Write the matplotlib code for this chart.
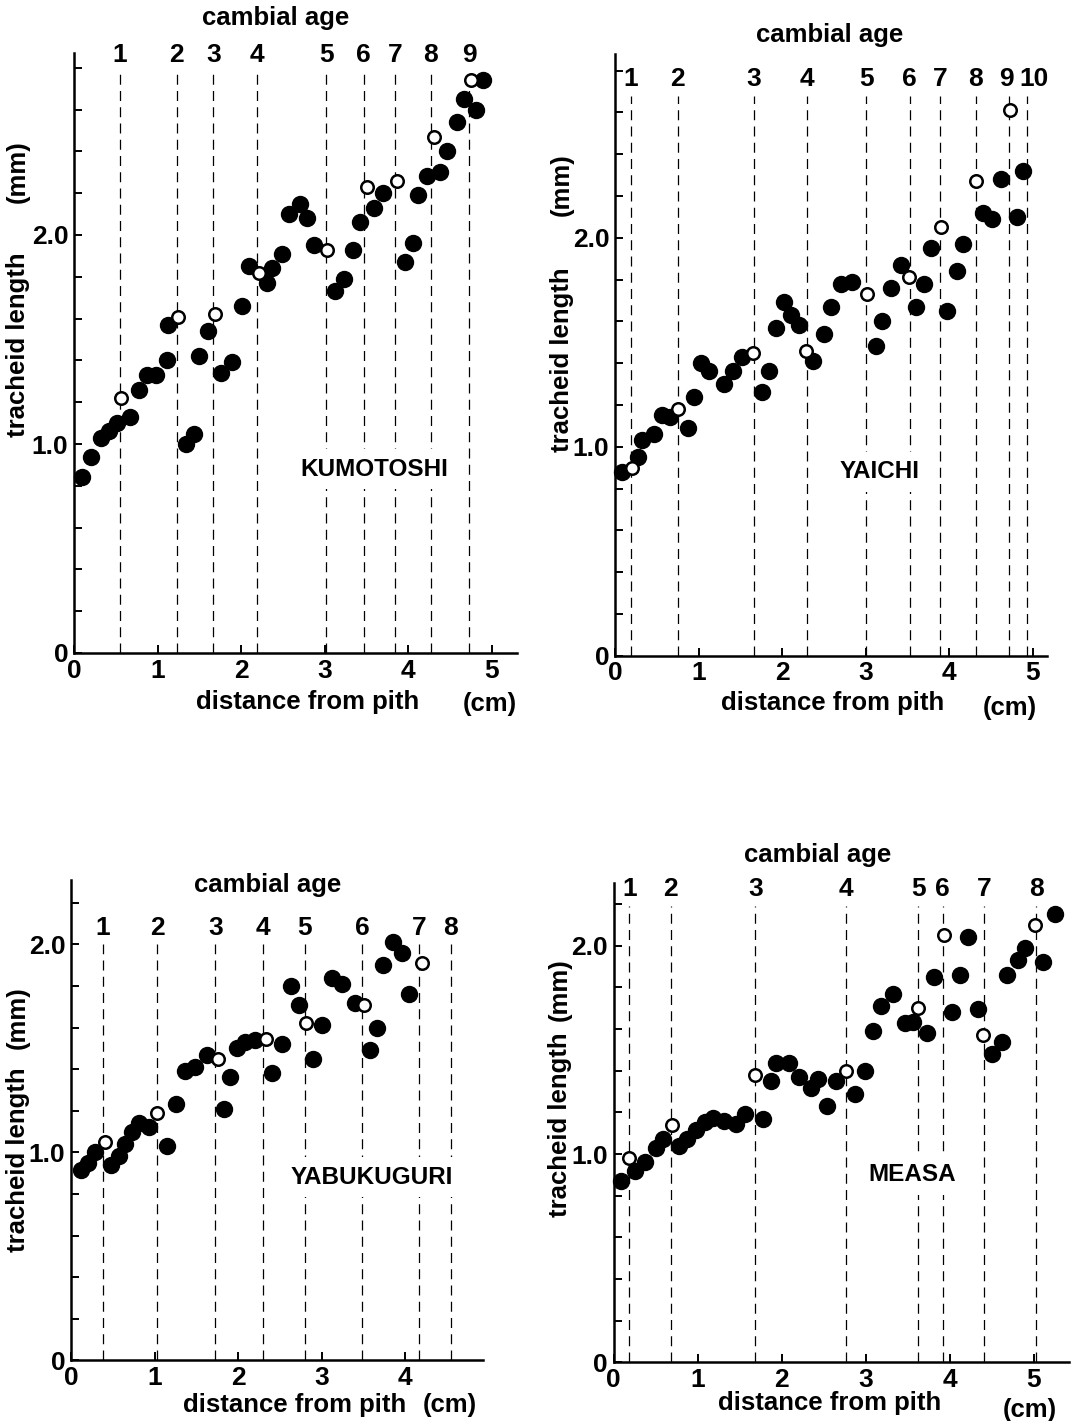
import matplotlib
matplotlib.use("Agg")
import matplotlib.pyplot as plt

plt.rcParams['font.family'] = ['Liberation Sans', 'DejaVu Sans']
plt.rcParams['font.weight'] = 'bold'

W, H = 1073, 1421

# ---- KUMOTOSHI ----
kumo_x = [0.10, 0.20, 0.32, 0.42, 0.52, 0.67, 0.78, 0.87, 0.98, 1.11, 1.12, 1.34, 1.44,
          1.50, 1.60, 1.76, 1.89, 2.01, 2.09, 2.31, 2.37, 2.49, 2.58, 2.71, 2.79, 2.87,
          3.12, 3.23, 3.34, 3.42, 3.59, 3.70, 3.96, 4.06, 4.12, 4.23, 4.38, 4.47, 4.59,
          4.67, 4.82, 4.90]
kumo_y = [0.84, 0.94, 1.03, 1.06, 1.10, 1.13, 1.26, 1.33, 1.33, 1.40, 1.57, 1.00, 1.05,
          1.42, 1.54, 1.34, 1.39, 1.66, 1.85, 1.77, 1.84, 1.91, 2.10, 2.15, 2.08, 1.95,
          1.73, 1.79, 1.93, 2.06, 2.13, 2.20, 1.87, 1.96, 2.19, 2.28, 2.30, 2.40, 2.54,
          2.65, 2.60, 2.74]
kumo_open_x = [0.56, 1.25, 1.69, 2.21, 3.03, 3.51, 3.87, 4.31, 4.75]
kumo_open_y = [1.22, 1.61, 1.62, 1.82, 1.93, 2.23, 2.26, 2.47, 2.74]
kumo_rings = [0.55, 1.23, 1.67, 2.19, 3.02, 3.47, 3.85, 4.27, 4.73]

# ---- YAICHI ----
yai_x = [0.08, 0.28, 0.32, 0.47, 0.56, 0.66, 0.87, 0.95, 1.03, 1.12, 1.31, 1.41, 1.52,
         1.76, 1.84, 1.93, 2.02, 2.11, 2.20, 2.37, 2.50, 2.59, 2.71, 2.84, 3.12, 3.20,
         3.31, 3.43, 3.60, 3.70, 3.79, 3.98, 4.09, 4.17, 4.41, 4.51, 4.62, 4.81, 4.89]
yai_y = [0.88, 0.95, 1.03, 1.06, 1.15, 1.14, 1.09, 1.24, 1.40, 1.36, 1.30, 1.36, 1.43,
         1.26, 1.36, 1.57, 1.69, 1.63, 1.58, 1.41, 1.54, 1.67, 1.78, 1.79, 1.48, 1.60,
         1.76, 1.87, 1.67, 1.78, 1.95, 1.65, 1.84, 1.97, 2.12, 2.09, 2.28, 2.10, 2.32]
yai_open_x = [0.20, 0.76, 1.65, 2.29, 3.02, 3.52, 3.90, 4.32, 4.73]
yai_open_y = [0.90, 1.18, 1.45, 1.46, 1.73, 1.81, 2.05, 2.27, 2.61]
yai_rings = [0.19, 0.75, 1.66, 2.30, 3.01, 3.53, 3.89, 4.32, 4.72, 4.93]

# ---- YABUKUGURI ----
yab_x = [0.12, 0.20, 0.29, 0.48, 0.58, 0.65, 0.73, 0.82, 0.94, 1.15, 1.26, 1.37, 1.49,
         1.63, 1.83, 1.90, 1.99, 2.08, 2.20, 2.41, 2.53, 2.63, 2.73, 2.90, 3.01, 3.12,
         3.24, 3.40, 3.58, 3.66, 3.74, 3.86, 3.96, 4.05]
yab_y = [0.915, 0.95, 1.00, 0.94, 0.98, 1.04, 1.10, 1.14, 1.12, 1.03, 1.23, 1.39, 1.41,
         1.47, 1.21, 1.36, 1.50, 1.53, 1.54, 1.38, 1.52, 1.80, 1.71, 1.45, 1.61, 1.84,
         1.81, 1.72, 1.49, 1.60, 1.90, 2.01, 1.96, 1.76]
yab_open_x = [0.41, 1.03, 1.76, 2.33, 2.82, 3.51, 4.20]
yab_open_y = [1.05, 1.19, 1.45, 1.545, 1.62, 1.71, 1.91]
yab_rings = [0.38, 1.03, 1.73, 2.30, 2.80, 3.49, 4.17, 4.55]

# ---- MEASA ----
mea_x = [0.09, 0.26, 0.375, 0.51, 0.59, 0.78, 0.88, 0.98, 1.09, 1.18, 1.32, 1.46, 1.57,
         1.78, 1.87, 1.93, 2.09, 2.21, 2.35, 2.43, 2.54, 2.65, 2.875, 2.99, 3.09, 3.19,
         3.33, 3.47, 3.56, 3.73, 3.81, 4.03, 4.13, 4.22, 4.34, 4.51, 4.62, 4.69, 4.81,
         4.90, 5.11, 5.26]
mea_y = [0.87, 0.92, 0.96, 1.03, 1.07, 1.04, 1.07, 1.115, 1.155, 1.175, 1.16, 1.145, 1.19,
         1.17, 1.35, 1.435, 1.435, 1.37, 1.315, 1.36, 1.23, 1.35, 1.29, 1.40, 1.59, 1.71,
         1.77, 1.63, 1.635, 1.58, 1.85, 1.68, 1.86, 2.04, 1.695, 1.48, 1.54, 1.86, 1.93,
         1.99, 1.92, 2.15]
mea_open_x = [0.19, 0.70, 1.69, 2.77, 3.63, 3.93, 4.40, 5.02]
mea_open_y = [0.98, 1.14, 1.38, 1.40, 1.70, 2.05, 1.57, 2.10]
mea_rings = [0.19, 0.68, 1.69, 2.77, 3.63, 3.92, 4.41, 5.03]

fig = plt.figure(figsize=(W / 100, H / 100), dpi=100)


def px(x, y):
    return x / W, 1 - y / H


def make_axes(x0, y0, pxcm, pxmm, xmax, ymax, nx):
    ax = fig.add_axes([x0 / W, 1 - y0 / H, xmax * pxcm / W, ymax * pxmm / H])
    ax.set_xlim(0, xmax)
    ax.set_ylim(0, ymax)
    ax.patch.set_alpha(0)
    for s in ['top', 'right']:
        ax.spines[s].set_visible(False)
    for s in ['left', 'bottom']:
        ax.spines[s].set_linewidth(1.8)
    ax.set_xticks(range(nx + 1))
    ax.set_xticklabels([str(i) for i in range(nx + 1)])
    ax.set_yticks([0, 1, 2])
    ax.set_yticklabels(['0', '1.0', '2.0'])
    ax.set_yticks([v * 0.2 for v in range(int(ymax / 0.2) + 1)], minor=True)
    ax.tick_params(direction='in', length=6, width=1.4, labelsize=19, pad=4)
    ax.tick_params(axis='y', which='minor', direction='in', length=6, width=1.4)
    for lab in ax.get_xticklabels() + ax.get_yticklabels():
        lab.set_fontweight('bold')
    return ax


def draw(ax, xs, ys, oxs, oys, rings, ring_top, num_y, name, name_xy):
    for r in rings:
        ax.plot([r, r], [0, ring_top], color='black', lw=0.9,
                dashes=(8, 5), zorder=1)
    for i, r in enumerate(rings):
        shift = 0.0
        if len(rings) == 10 and i == 8:
            shift = -0.03
        if len(rings) == 10 and i == 9:
            shift = 0.09
        ax.text(r + shift, num_y, str(i + 1), ha='center', va='center',
                fontsize=19, fontweight='bold', clip_on=False)
    ax.plot(xs, ys, 'o', color='black', ms=11.5, zorder=3, clip_on=False)
    ax.plot(oxs, oys, 'o', mfc='white', mec='black', mew=1.8, ms=9,
            zorder=4, clip_on=False)
    ax.text(name_xy[0], name_xy[1], name, ha='center', va='center',
            fontsize=17.5, fontweight='bold', zorder=2,
            bbox=dict(facecolor='white', edgecolor='none', pad=6))


def labels(tl, mm, dist, cm, title):
    fig.text(*px(*tl), 'tracheid length', rotation=90, ha='center',
             va='center', fontsize=18.5, fontweight='bold')
    fig.text(*px(*mm), '(mm)', rotation=90, ha='center', va='center',
             fontsize=18.5, fontweight='bold')
    fig.text(*px(*dist), 'distance from pith', ha='center', va='center',
             fontsize=18.5, fontweight='bold')
    fig.text(*px(*cm), '(cm)', ha='center', va='center', fontsize=18.5,
             fontweight='bold')
    fig.text(*px(*title), 'cambial age', ha='center', va='center',
             fontsize=18.5, fontweight='bold')


ax1 = make_axes(74, 653, 83.5, 209, 5.3, 2.87, 5)
draw(ax1, kumo_x, kumo_y, kumo_open_x, kumo_open_y, kumo_rings, 2.79, 2.86,
     'KUMOTOSHI', (3.6, 0.88))
labels((18, 345), (18, 172), (308, 702), (490, 704), (276, 18))

ax2 = make_axes(615, 655.7, 83.5, 209, 5.17, 2.88, 5)
draw(ax2, yai_x, yai_y, yai_open_x, yai_open_y, yai_rings, 2.68, 2.76,
     'YAICHI', (3.17, 0.88))
labels((562, 360), (562, 185), (833, 703), (1010, 708), (830, 35))

ax3 = make_axes(71, 1360.3, 83.5, 208, 4.93, 2.31, 4)
draw(ax3, yab_x, yab_y, yab_open_x, yab_open_y, yab_rings, 2.0, 2.08,
     'YABUKUGURI', (3.6, 0.88))
labels((18, 1160), (18, 1018), (295, 1405), (450, 1405), (268, 885))

ax4 = make_axes(613.5, 1362.3, 84, 208.3, 5.42, 2.3, 5)
draw(ax4, mea_x, mea_y, mea_open_x, mea_open_y, mea_rings, 2.19, 2.27,
     'MEASA', (3.55, 0.9))
labels((560, 1125), (560, 990), (830, 1403), (1030, 1410), (818, 855))

fig.savefig('out.png', dpi=100)
